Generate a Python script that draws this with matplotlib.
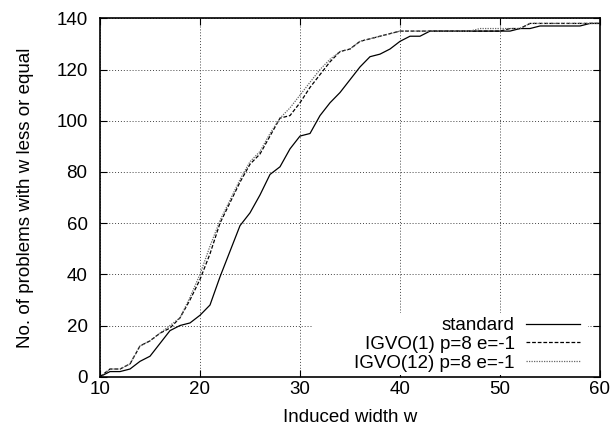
import matplotlib
matplotlib.use("Agg")
import matplotlib.pyplot as plt
from matplotlib.patches import Rectangle

plt.rcParams['font.family'] = ['Liberation Sans', 'DejaVu Sans']

w = list(range(10, 61))

standard = [0, 2, 2, 3, 6, 8, 13, 18, 20, 21,
            24, 28, 39, 49, 59, 64, 71, 79, 82, 89,
            94, 95, 102, 107, 111, 116, 121, 125, 126, 128,
            131, 133, 133, 135, 135, 135, 135, 135, 135, 135,
            135, 135, 136, 136, 137, 137, 137, 137, 137, 138,
            138]

igvo1 = [0, 3, 3, 5, 12, 14, 17, 19, 23, 30,
         38, 48, 60, 68, 76, 83, 87, 94, 101, 102,
         107, 113, 118, 123, 127, 128, 131, 132, 133, 134,
         135, 135, 135, 135, 135, 135, 135, 135, 135, 135,
         135, 136, 136, 138, 138, 138, 138, 138, 138, 138,
         138]

igvo12 = [0, 3, 3, 5, 12, 14, 17, 20, 23, 31,
          40, 51, 61, 69, 77, 84, 88, 95, 101, 105,
          110, 115, 120, 124, 127, 128, 131, 132, 133, 134,
          135, 135, 135, 135, 135, 135, 135, 135, 136, 136,
          136, 136, 136, 138, 138, 138, 138, 138, 138, 138,
          138]

labels = ["standard", "IGVO(1) p=8 e=-1", "IGVO(12) p=8 e=-1"]
xticks = [10, 20, 30, 40, 50, 60]
yticks = [0, 20, 40, 60, 80, 100, 120, 140]

FS = 13.5

fig = plt.figure(figsize=(6.15, 4.34), dpi=100)
ax = fig.add_axes([100/615, 1 - 376.7/434, 500/615, (376.7 - 18.3)/434])

ax.plot(w, standard, color='black', lw=0.9, ls='-', label=labels[0])
ax.plot(w, igvo1, color='black', lw=0.9, ls=(0, (3, 1.5)), label=labels[1])
ax.plot(w, igvo12, color='#666666', lw=0.9, ls=(0, (1, 1)), label=labels[2])

ax.set_xlim(10, 60)
ax.set_ylim(0, 140)
ax.set_xticks(xticks)
ax.set_yticks(yticks)
ax.tick_params(direction='in', length=5, width=0.8, top=True, right=True,
               labelsize=FS)
ax.tick_params(axis='x', pad=3)
ax.tick_params(axis='y', pad=9)
ax.grid(True, color='#444444', ls=(0, (1, 2)), lw=0.7)
for s in ax.spines.values():
    s.set_linewidth(1.2)

ax.set_xlabel("Induced width w", fontsize=FS, labelpad=8)
ax.set_ylabel("No. of problems with w less or equal", fontsize=FS, labelpad=16)

# white key area (gnuplot-style key box without border) hiding the grid
ax.add_patch(Rectangle((0.426, 0.017), 0.55, 0.161, transform=ax.transAxes,
                       facecolor='white', edgecolor='none', zorder=2.5))

leg = ax.legend(loc='lower right', bbox_to_anchor=(484/500, 0.004), borderaxespad=0,
                markerfirst=False, frameon=True, fancybox=False, framealpha=1,
                facecolor='white', edgecolor='white', fontsize=FS,
                handlelength=2.9, handletextpad=0.6, labelspacing=0.08,
                borderpad=0.2)
for t in leg.get_texts():
    t.set_ha('right')
leg.get_frame().set_linewidth(0)

fig.savefig("out.png", dpi=100)
